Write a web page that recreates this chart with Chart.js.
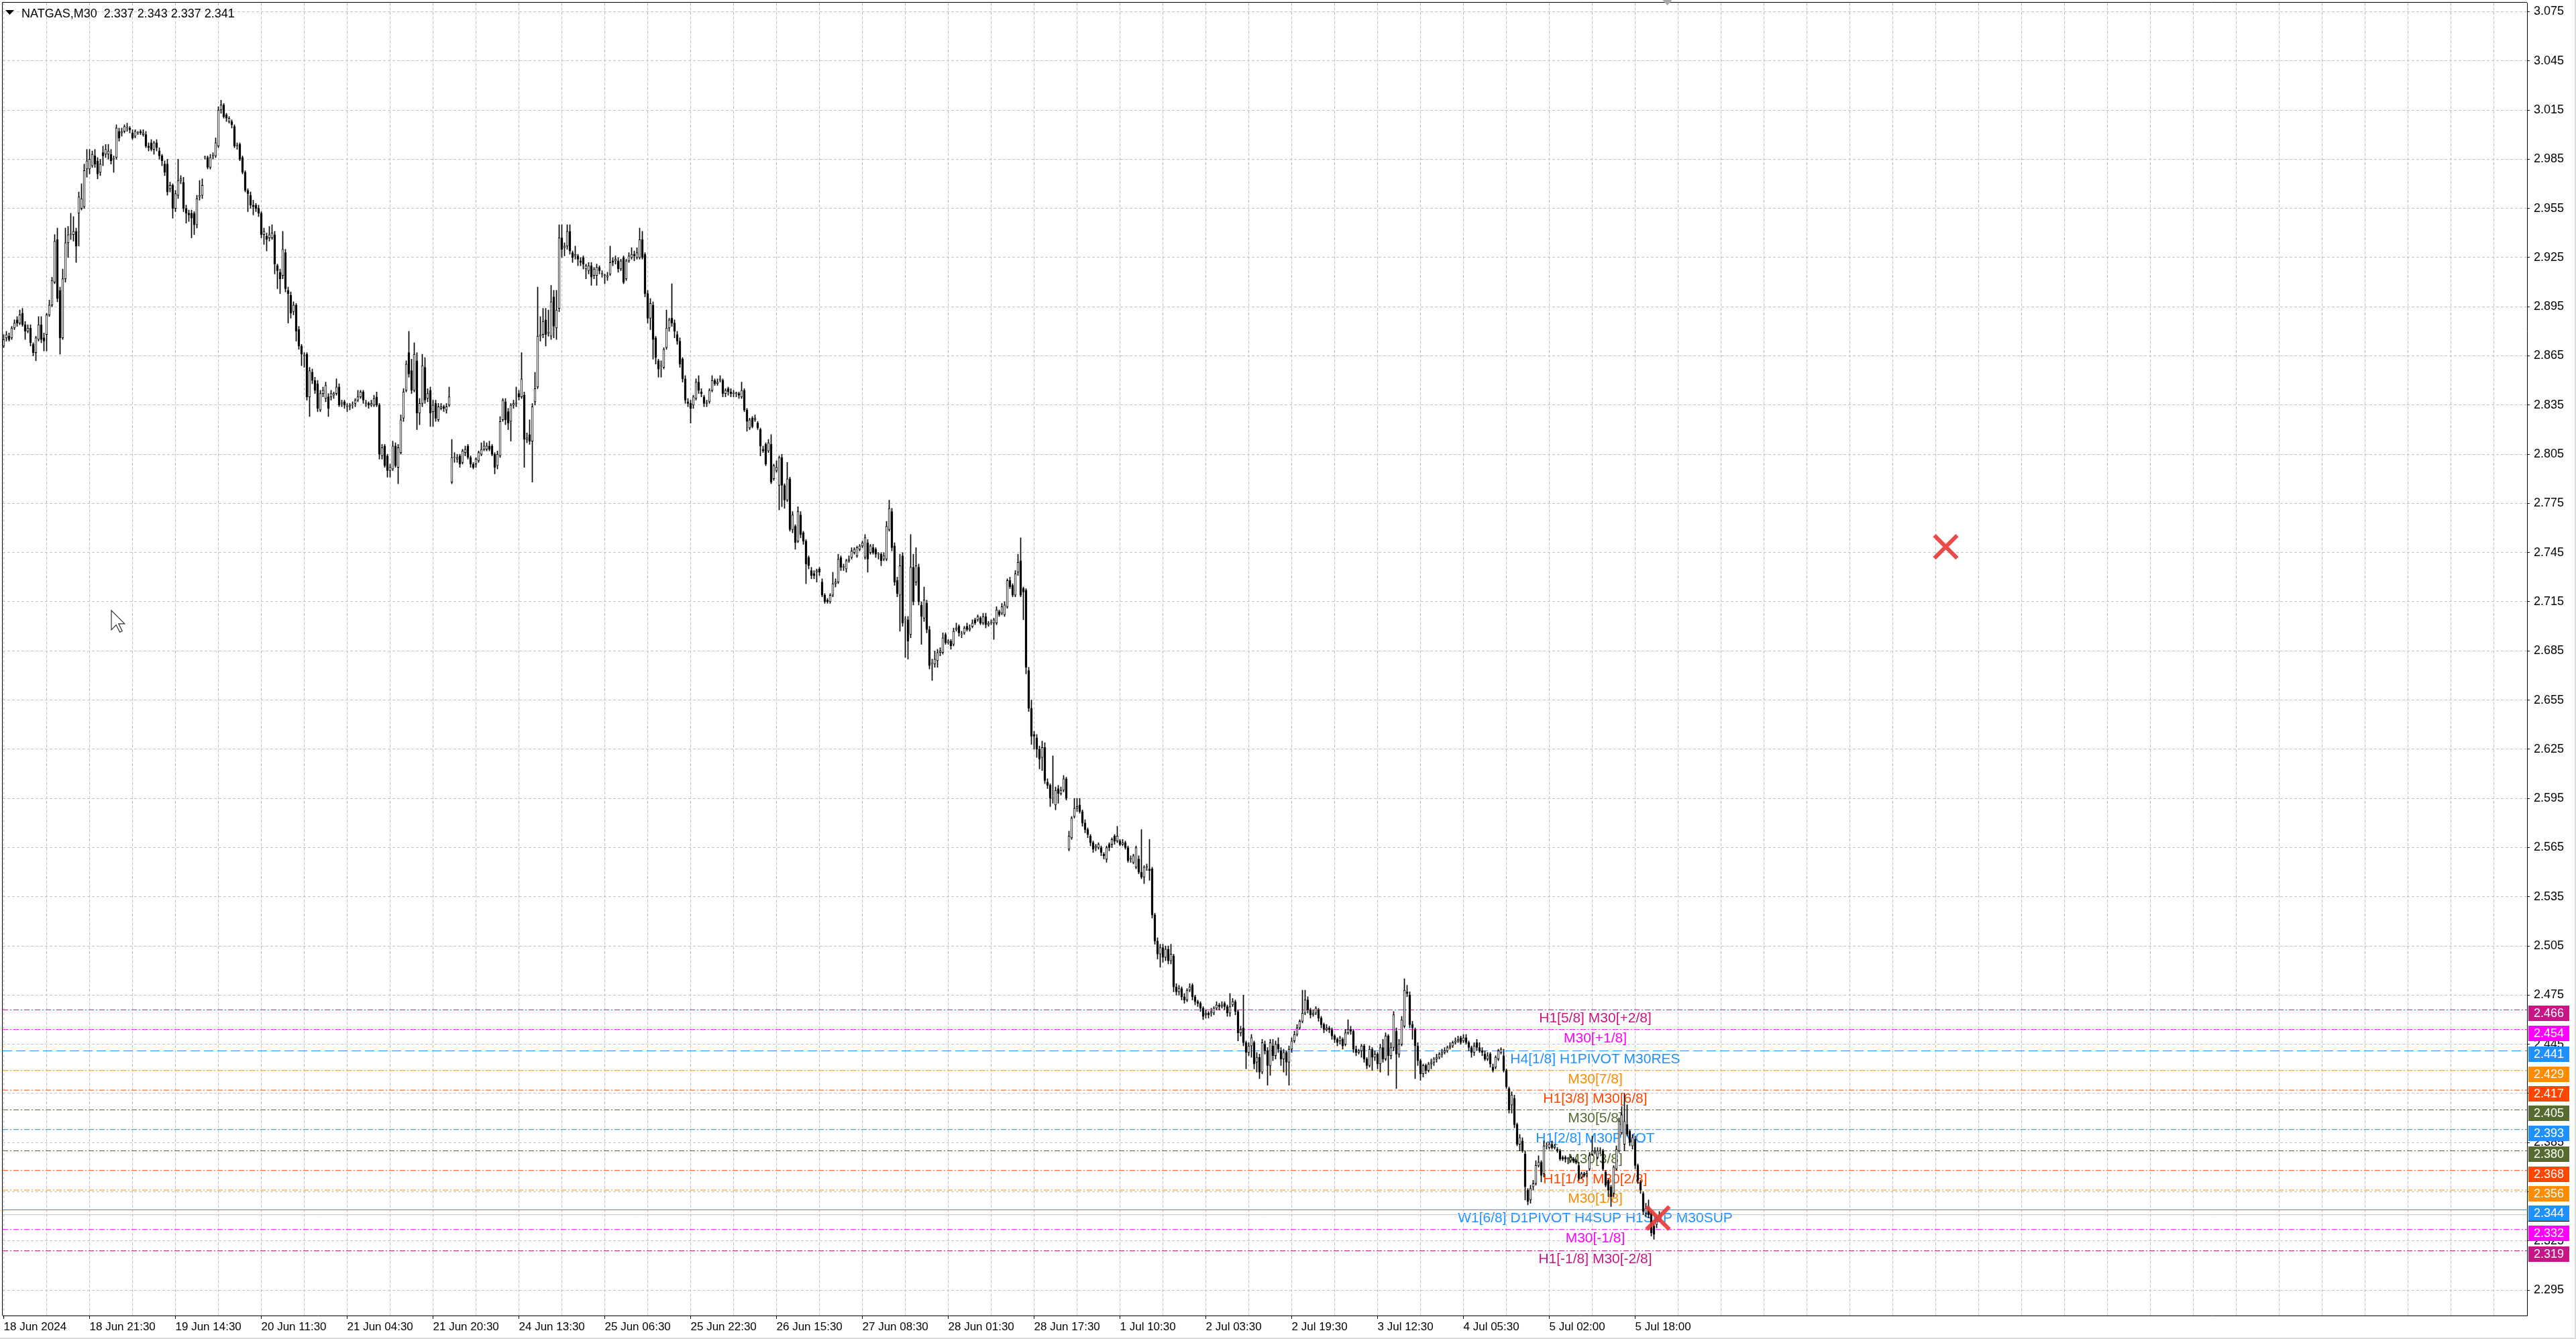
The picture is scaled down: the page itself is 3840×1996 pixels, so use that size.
<!DOCTYPE html>
<html><head><meta charset="utf-8">
<script src="https://cdn.jsdelivr.net/npm/chart.js@4.4.1/dist/chart.umd.min.js"></script>
<style>
html,body{margin:0;padding:0;background:#fff;overflow:hidden;}
#wrap{width:3840px;height:1996px;position:relative;}
canvas{display:block;}
</style></head><body>
<div id="wrap"><canvas id="c" width="3840" height="1996" style="width:3840px;height:1996px"></canvas></div>
<script>
const symbolName = 'NATGAS';
const periodName = 'M30';
const timeLabels = ['18 Jun 2024','18 Jun 21:30','19 Jun 14:30','20 Jun 11:30','21 Jun 04:30','21 Jun 20:30','24 Jun 13:30','25 Jun 06:30','25 Jun 22:30','26 Jun 15:30','27 Jun 08:30','28 Jun 01:30','28 Jun 17:30','1 Jul 10:30','2 Jul 03:30','2 Jul 19:30','3 Jul 12:30','4 Jul 05:30','5 Jul 02:00','5 Jul 18:00'];
const priceTicks = [3.075,3.045,3.015,2.985,2.955,2.925,2.895,2.865,2.835,2.805,2.775,2.745,2.715,2.685,2.655,2.625,2.595,2.565,2.535,2.505,2.475,2.445,2.415,2.385,2.355,2.325,2.295];

const barOpen = [
2.871,2.876,2.877,2.876,2.882,2.887,2.885,2.891,2.884,2.880,
2.882,2.872,2.867,2.875,2.884,2.876,2.878,2.890,2.896,2.910,
2.936,2.905,2.876,2.912,2.934,2.939,2.939,2.941,2.952,2.955,
2.956,2.979,2.979,2.981,2.987,2.984,2.977,2.989,2.988,2.988,
2.988,2.985,2.986,3.002,3.001,3.002,3.004,3.004,3.001,2.999,
3.001,3.002,3.000,3.000,2.993,2.995,2.991,2.995,2.990,2.987,
2.982,2.982,2.967,2.969,2.955,2.963,2.972,2.971,2.955,2.952,
2.952,2.952,2.945,2.962,2.963,2.986,2.986,2.980,2.987,2.987,
2.993,3.015,3.018,3.012,3.008,3.008,3.005,2.993,2.994,2.986,
2.977,2.966,2.963,2.957,2.957,2.955,2.952,2.939,2.938,2.937,
2.937,2.939,2.920,2.916,2.914,2.928,2.905,2.902,2.892,2.896,
2.881,2.871,2.865,2.866,2.840,2.855,2.850,2.848,2.832,2.842,
2.839,2.840,2.840,2.841,2.842,2.846,2.836,2.837,2.834,2.834,
2.835,2.836,2.838,2.840,2.843,2.836,2.836,2.835,2.835,2.840,
2.835,2.804,2.810,2.804,2.795,2.796,2.810,2.797,2.806,2.827,
2.844,2.867,2.856,2.844,2.862,2.830,2.836,2.858,2.839,2.844,
2.831,2.836,2.826,2.833,2.834,2.832,2.835,2.788,2.803,2.802,
2.804,2.800,2.806,2.810,2.803,2.799,2.799,2.801,2.805,2.808,
2.808,2.810,2.810,2.805,2.798,2.804,2.826,2.837,2.831,2.825,
2.835,2.836,2.842,2.840,2.841,2.814,2.817,2.813,2.837,2.846,
2.877,2.878,2.887,2.879,2.877,2.901,2.882,2.894,2.937,2.931,
2.932,2.941,2.928,2.926,2.926,2.923,2.925,2.918,2.917,2.920,
2.914,2.914,2.919,2.915,2.914,2.913,2.915,2.923,2.923,2.923,
2.918,2.925,2.912,2.923,2.925,2.927,2.925,2.925,2.936,2.927,
2.903,2.888,2.896,2.876,2.862,2.859,2.858,2.870,2.882,2.888,
2.885,2.878,2.874,2.863,2.851,2.837,2.836,2.835,2.839,2.849,
2.843,2.840,2.836,2.837,2.844,2.850,2.848,2.850,2.850,2.842,
2.845,2.843,2.842,2.842,2.842,2.840,2.844,2.832,2.821,2.827,
2.826,2.824,2.820,2.808,2.811,2.807,2.811,2.790,2.795,2.786,
2.803,2.786,2.777,2.790,2.759,2.761,2.752,2.768,2.757,2.752,
2.742,2.734,2.732,2.733,2.735,2.727,2.719,2.716,2.715,2.719,
2.726,2.727,2.742,2.736,2.735,2.740,2.742,2.745,2.743,2.747,
2.749,2.742,2.751,2.745,2.748,2.747,2.744,2.744,2.741,2.741,
2.759,2.770,2.749,2.728,2.719,2.743,2.704,2.704,2.695,2.736,
2.727,2.736,2.713,2.705,2.714,2.698,2.677,2.677,2.679,2.684,
2.684,2.695,2.690,2.691,2.689,2.698,2.700,2.695,2.696,2.700,
2.698,2.700,2.704,2.704,2.705,2.702,2.706,2.701,2.702,2.702,
2.702,2.709,2.708,2.707,2.712,2.728,2.725,2.719,2.733,2.740,
2.723,2.722,2.673,2.650,2.634,2.632,2.625,2.620,2.626,2.605,
2.603,2.595,2.591,2.601,2.598,2.600,2.607,2.564,2.571,2.584,
2.589,2.591,2.587,2.580,2.576,2.572,2.568,2.565,2.565,2.565,
2.561,2.558,2.567,2.567,2.572,2.569,2.569,2.567,2.568,2.565,
2.558,2.556,2.553,2.558,2.550,2.547,2.553,2.552,2.552,2.524,
2.508,2.500,2.504,2.498,2.503,2.496,2.499,2.480,2.477,2.479,
2.474,2.472,2.478,2.481,2.474,2.471,2.470,2.467,2.463,2.464,
2.464,2.464,2.467,2.469,2.468,2.470,2.468,2.464,2.469,2.471,
2.465,2.452,2.455,2.446,2.440,2.444,2.446,2.434,2.437,2.428,
2.445,2.441,2.432,2.444,2.438,2.445,2.441,2.436,2.440,2.434,
2.442,2.447,2.451,2.455,2.459,2.464,2.472,2.466,2.463,2.464,
2.466,2.461,2.457,2.454,2.455,2.454,2.450,2.448,2.447,2.448,
2.445,2.452,2.454,2.453,2.442,2.440,2.441,2.444,2.436,2.432,
2.442,2.437,2.439,2.433,2.443,2.436,2.450,2.438,2.443,2.453,
2.439,2.445,2.456,2.477,2.475,2.457,2.454,2.444,2.435,2.427,
2.432,2.429,2.433,2.434,2.436,2.437,2.439,2.440,2.441,2.443,
2.444,2.446,2.447,2.449,2.447,2.449,2.446,2.443,2.440,2.446,
2.443,2.441,2.439,2.436,2.439,2.431,2.431,2.436,2.440,2.438,
2.429,2.418,2.408,2.412,2.396,2.384,2.386,2.378,2.356,2.350,
2.358,2.360,2.371,2.373,2.366,2.383,2.382,2.384,2.382,2.381,
2.380,2.376,2.376,2.375,2.374,2.375,2.374,2.371,2.364,2.366,
2.365,2.369,2.378,2.379,2.376,2.380,2.380,2.367,2.362,2.358,
2.354,2.369,2.380,2.391,2.384,2.396,2.392,2.383,2.387,2.371,
2.361,2.354,2.342,2.346,2.342,2.334,2.335,2.337];

const barHigh = [
2.878,2.880,2.879,2.883,2.887,2.889,2.893,2.894,2.886,2.884,
2.884,2.873,2.877,2.889,2.889,2.879,2.891,2.899,2.913,2.939,
2.943,2.907,2.918,2.943,2.944,2.952,2.950,2.943,2.965,2.970,
2.982,2.991,2.991,2.990,2.991,2.986,2.985,2.993,2.994,2.994,
2.991,2.987,3.006,3.004,3.004,3.006,3.007,3.005,3.003,3.003,
3.002,3.003,3.003,3.002,2.995,2.997,2.996,2.997,2.992,2.988,
2.984,2.985,2.971,2.970,2.966,2.985,2.975,2.974,2.957,2.954,
2.954,2.953,2.963,2.972,2.973,2.987,2.987,2.988,2.989,2.998,
3.017,3.021,3.019,3.013,3.011,3.009,3.006,2.995,2.995,2.987,
2.978,2.967,2.965,2.960,2.958,2.957,2.953,2.943,2.940,2.944,
2.945,2.941,2.921,2.918,2.941,2.930,2.907,2.904,2.898,2.897,
2.883,2.872,2.867,2.867,2.858,2.857,2.852,2.850,2.844,2.846,
2.849,2.842,2.844,2.843,2.851,2.848,2.838,2.838,2.836,2.836,
2.837,2.839,2.844,2.844,2.844,2.838,2.837,2.838,2.841,2.843,
2.836,2.811,2.811,2.805,2.799,2.813,2.812,2.811,2.829,2.845,
2.862,2.880,2.863,2.873,2.867,2.839,2.866,2.864,2.845,2.846,
2.838,2.838,2.836,2.836,2.835,2.836,2.846,2.814,2.806,2.805,
2.805,2.808,2.810,2.811,2.804,2.800,2.803,2.807,2.812,2.813,
2.812,2.813,2.811,2.806,2.807,2.828,2.839,2.839,2.833,2.836,
2.838,2.846,2.844,2.867,2.843,2.818,2.826,2.836,2.855,2.907,
2.889,2.894,2.894,2.893,2.908,2.905,2.905,2.945,2.945,2.934,
2.945,2.945,2.929,2.932,2.927,2.925,2.926,2.921,2.922,2.922,
2.919,2.921,2.920,2.917,2.915,2.916,2.932,2.925,2.926,2.925,
2.924,2.926,2.924,2.928,2.931,2.929,2.931,2.943,2.941,2.928,
2.905,2.900,2.898,2.877,2.863,2.862,2.870,2.893,2.888,2.909,
2.887,2.880,2.876,2.864,2.853,2.839,2.838,2.841,2.851,2.853,
2.845,2.841,2.838,2.845,2.853,2.851,2.851,2.853,2.851,2.845,
2.846,2.845,2.844,2.843,2.843,2.849,2.845,2.833,2.827,2.828,
2.829,2.825,2.821,2.810,2.812,2.814,2.817,2.799,2.801,2.804,
2.805,2.787,2.800,2.791,2.770,2.762,2.773,2.770,2.758,2.753,
2.743,2.736,2.734,2.735,2.736,2.729,2.720,2.717,2.720,2.733,
2.729,2.744,2.743,2.738,2.741,2.743,2.748,2.748,2.749,2.750,
2.752,2.756,2.753,2.750,2.750,2.748,2.745,2.745,2.745,2.764,
2.777,2.772,2.751,2.730,2.744,2.745,2.706,2.706,2.756,2.744,
2.748,2.738,2.715,2.724,2.716,2.700,2.680,2.685,2.686,2.687,
2.696,2.696,2.692,2.692,2.699,2.702,2.701,2.697,2.700,2.702,
2.701,2.704,2.705,2.707,2.706,2.708,2.708,2.703,2.704,2.705,
2.712,2.710,2.714,2.715,2.729,2.730,2.726,2.734,2.744,2.754,
2.724,2.723,2.675,2.655,2.636,2.634,2.627,2.630,2.629,2.607,
2.604,2.621,2.602,2.603,2.602,2.609,2.608,2.575,2.584,2.595,
2.595,2.595,2.588,2.582,2.577,2.573,2.569,2.567,2.568,2.566,
2.562,2.566,2.568,2.571,2.573,2.578,2.570,2.570,2.569,2.566,
2.560,2.561,2.566,2.560,2.576,2.554,2.555,2.570,2.553,2.525,
2.510,2.506,2.506,2.505,2.505,2.506,2.500,2.482,2.481,2.480,
2.476,2.479,2.482,2.482,2.475,2.472,2.471,2.468,2.466,2.465,
2.467,2.468,2.471,2.470,2.471,2.471,2.469,2.476,2.473,2.472,
2.466,2.456,2.475,2.447,2.446,2.451,2.447,2.440,2.439,2.448,
2.447,2.443,2.448,2.448,2.447,2.449,2.443,2.442,2.441,2.444,
2.449,2.453,2.457,2.460,2.478,2.478,2.474,2.467,2.466,2.468,
2.467,2.462,2.458,2.457,2.456,2.455,2.451,2.449,2.450,2.449,
2.454,2.460,2.456,2.454,2.444,2.442,2.445,2.445,2.437,2.444,
2.443,2.441,2.440,2.445,2.448,2.452,2.451,2.446,2.465,2.455,
2.448,2.462,2.485,2.481,2.477,2.459,2.455,2.446,2.436,2.433,
2.433,2.434,2.436,2.437,2.439,2.440,2.442,2.443,2.444,2.446,
2.447,2.449,2.450,2.450,2.451,2.451,2.447,2.444,2.446,2.448,
2.446,2.443,2.441,2.440,2.440,2.433,2.438,2.442,2.443,2.442,
2.430,2.419,2.416,2.414,2.397,2.390,2.388,2.380,2.357,2.359,
2.362,2.374,2.377,2.374,2.386,2.385,2.385,2.386,2.384,2.382,
2.381,2.377,2.377,2.376,2.377,2.376,2.375,2.373,2.367,2.367,
2.368,2.379,2.389,2.382,2.382,2.382,2.381,2.368,2.363,2.359,
2.371,2.383,2.400,2.407,2.415,2.408,2.393,2.390,2.389,2.372,
2.362,2.355,2.348,2.350,2.343,2.336,2.340,2.343];

const barLow = [
2.870,2.874,2.874,2.875,2.881,2.883,2.884,2.883,2.875,2.879,
2.871,2.865,2.862,2.874,2.873,2.868,2.868,2.889,2.895,2.909,
2.898,2.866,2.875,2.910,2.925,2.936,2.935,2.922,2.932,2.954,
2.955,2.974,2.976,2.980,2.980,2.973,2.975,2.981,2.986,2.985,
2.982,2.977,2.985,2.996,2.999,3.001,3.002,3.001,2.997,2.998,
3.000,3.000,2.999,2.992,2.990,2.990,2.988,2.990,2.985,2.981,
2.975,2.963,2.965,2.949,2.953,2.961,2.970,2.953,2.946,2.947,
2.937,2.939,2.943,2.960,2.961,2.985,2.979,2.979,2.985,2.986,
2.992,3.013,3.010,3.008,3.007,3.004,2.992,2.991,2.984,2.976,
2.965,2.953,2.955,2.951,2.953,2.950,2.937,2.933,2.929,2.935,
2.936,2.915,2.906,2.903,2.912,2.904,2.885,2.888,2.890,2.874,
2.869,2.859,2.858,2.838,2.828,2.848,2.842,2.831,2.831,2.840,
2.837,2.828,2.838,2.839,2.841,2.834,2.834,2.833,2.831,2.832,
2.833,2.834,2.837,2.839,2.836,2.834,2.833,2.834,2.834,2.834,
2.802,2.802,2.797,2.791,2.791,2.795,2.797,2.787,2.805,2.825,
2.843,2.852,2.842,2.843,2.820,2.823,2.834,2.836,2.837,2.822,
2.822,2.825,2.825,2.832,2.831,2.830,2.834,2.787,2.800,2.800,
2.797,2.799,2.804,2.802,2.797,2.796,2.797,2.800,2.804,2.807,
2.807,2.807,2.804,2.793,2.796,2.803,2.825,2.823,2.820,2.813,
2.833,2.834,2.838,2.839,2.797,2.812,2.811,2.788,2.835,2.845,
2.874,2.876,2.871,2.877,2.875,2.876,2.875,2.892,2.925,2.926,
2.930,2.927,2.922,2.924,2.920,2.920,2.918,2.912,2.915,2.908,
2.912,2.908,2.915,2.913,2.909,2.911,2.914,2.920,2.921,2.916,
2.917,2.909,2.911,2.922,2.924,2.923,2.924,2.924,2.924,2.901,
2.885,2.881,2.863,2.860,2.852,2.852,2.857,2.869,2.880,2.883,
2.876,2.872,2.858,2.849,2.836,2.834,2.824,2.833,2.838,2.842,
2.840,2.834,2.834,2.836,2.843,2.847,2.847,2.849,2.840,2.840,
2.841,2.840,2.840,2.840,2.839,2.839,2.831,2.819,2.820,2.821,
2.825,2.820,2.804,2.806,2.798,2.806,2.787,2.789,2.794,2.771,
2.773,2.772,2.776,2.758,2.757,2.747,2.751,2.754,2.750,2.726,
2.735,2.729,2.729,2.727,2.731,2.718,2.714,2.714,2.714,2.718,
2.724,2.726,2.734,2.734,2.733,2.739,2.741,2.744,2.742,2.746,
2.748,2.741,2.733,2.744,2.744,2.742,2.741,2.737,2.740,2.740,
2.758,2.746,2.725,2.718,2.697,2.700,2.681,2.680,2.693,2.713,
2.725,2.713,2.689,2.703,2.696,2.674,2.667,2.675,2.675,2.682,
2.683,2.689,2.689,2.686,2.688,2.697,2.694,2.693,2.695,2.697,
2.697,2.699,2.701,2.703,2.701,2.701,2.699,2.700,2.701,2.692,
2.701,2.706,2.707,2.706,2.711,2.723,2.718,2.718,2.731,2.718,
2.704,2.671,2.648,2.628,2.625,2.620,2.613,2.612,2.604,2.601,
2.590,2.592,2.588,2.592,2.597,2.599,2.594,2.563,2.570,2.583,
2.587,2.586,2.578,2.574,2.571,2.566,2.562,2.563,2.564,2.560,
2.558,2.556,2.563,2.565,2.567,2.568,2.566,2.566,2.564,2.556,
2.556,2.555,2.552,2.549,2.546,2.543,2.551,2.545,2.522,2.506,
2.497,2.492,2.495,2.496,2.494,2.494,2.477,2.475,2.475,2.472,
2.470,2.471,2.477,2.472,2.469,2.468,2.465,2.460,2.461,2.461,
2.462,2.463,2.466,2.466,2.467,2.466,2.462,2.462,2.468,2.463,
2.447,2.450,2.444,2.430,2.438,2.437,2.430,2.428,2.424,2.427,
2.439,2.420,2.426,2.435,2.436,2.440,2.432,2.428,2.426,2.420,
2.440,2.446,2.450,2.454,2.458,2.463,2.464,2.461,2.462,2.463,
2.459,2.455,2.452,2.453,2.452,2.448,2.446,2.444,2.445,2.442,
2.444,2.451,2.451,2.440,2.438,2.439,2.437,2.434,2.430,2.431,
2.429,2.435,2.430,2.428,2.434,2.435,2.426,2.436,2.441,2.418,
2.437,2.444,2.455,2.474,2.455,2.448,2.424,2.432,2.423,2.425,
2.427,2.428,2.430,2.432,2.434,2.436,2.437,2.439,2.440,2.442,
2.443,2.445,2.446,2.445,2.446,2.445,2.441,2.437,2.438,2.441,
2.440,2.438,2.435,2.435,2.431,2.428,2.430,2.435,2.439,2.428,
2.418,2.403,2.403,2.394,2.383,2.380,2.379,2.350,2.347,2.348,
2.356,2.359,2.370,2.361,2.364,2.381,2.381,2.381,2.381,2.379,
2.374,2.374,2.373,2.372,2.373,2.373,2.372,2.362,2.363,2.364,
2.364,2.368,2.377,2.378,2.375,2.378,2.368,2.358,2.352,2.346,
2.352,2.368,2.379,2.390,2.380,2.389,2.383,2.381,2.369,2.360,
2.354,2.341,2.340,2.339,2.328,2.326,2.333,2.337];

const barClose = [
2.875,2.878,2.875,2.882,2.885,2.885,2.890,2.884,2.880,2.882,
2.873,2.867,2.876,2.884,2.875,2.874,2.890,2.896,2.911,2.935,
2.900,2.876,2.912,2.934,2.939,2.939,2.941,2.932,2.962,2.961,
2.978,2.984,2.985,2.988,2.982,2.976,2.982,2.987,2.991,2.990,
2.984,2.985,3.004,2.998,3.002,3.005,3.004,3.003,2.998,3.002,
3.001,3.001,3.001,2.993,2.992,2.991,2.995,2.992,2.987,2.984,
2.977,2.965,2.969,2.955,2.964,2.972,2.973,2.955,2.952,2.951,
2.949,2.945,2.961,2.963,2.969,2.986,2.980,2.986,2.987,2.995,
3.015,3.018,3.011,3.010,3.010,3.006,2.993,2.993,2.985,2.977,
2.966,2.964,2.957,2.956,2.955,2.952,2.939,2.941,2.936,2.939,
2.940,2.921,2.917,2.912,2.930,2.906,2.903,2.891,2.896,2.880,
2.871,2.866,2.865,2.840,2.856,2.850,2.844,2.833,2.842,2.844,
2.847,2.833,2.842,2.842,2.846,2.835,2.836,2.835,2.834,2.835,
2.835,2.838,2.840,2.843,2.838,2.836,2.835,2.836,2.839,2.835,
2.805,2.809,2.798,2.795,2.797,2.810,2.798,2.809,2.826,2.843,
2.860,2.854,2.844,2.866,2.830,2.836,2.859,2.838,2.842,2.830,
2.835,2.827,2.834,2.834,2.833,2.834,2.840,2.803,2.803,2.803,
2.799,2.807,2.808,2.803,2.799,2.797,2.802,2.806,2.808,2.810,
2.810,2.808,2.805,2.797,2.805,2.825,2.838,2.826,2.824,2.835,
2.836,2.836,2.840,2.851,2.814,2.815,2.813,2.834,2.845,2.877,
2.878,2.886,2.878,2.879,2.898,2.883,2.893,2.937,2.930,2.932,
2.941,2.929,2.925,2.927,2.924,2.922,2.921,2.920,2.920,2.913,
2.918,2.919,2.917,2.915,2.914,2.914,2.922,2.922,2.924,2.918,
2.923,2.910,2.923,2.926,2.927,2.926,2.928,2.936,2.925,2.903,
2.888,2.897,2.875,2.864,2.857,2.859,2.869,2.882,2.887,2.885,
2.880,2.874,2.860,2.851,2.838,2.836,2.833,2.840,2.849,2.844,
2.842,2.836,2.836,2.844,2.850,2.848,2.849,2.851,2.842,2.844,
2.843,2.842,2.842,2.842,2.841,2.844,2.832,2.825,2.826,2.822,
2.827,2.821,2.810,2.807,2.799,2.812,2.788,2.798,2.797,2.803,
2.786,2.777,2.790,2.759,2.768,2.751,2.770,2.756,2.752,2.738,
2.737,2.731,2.731,2.734,2.733,2.719,2.715,2.715,2.719,2.726,
2.727,2.741,2.736,2.736,2.740,2.741,2.746,2.747,2.748,2.749,
2.751,2.754,2.741,2.749,2.745,2.744,2.744,2.740,2.743,2.761,
2.772,2.748,2.727,2.720,2.737,2.702,2.704,2.691,2.736,2.715,
2.737,2.715,2.706,2.716,2.698,2.676,2.677,2.680,2.684,2.685,
2.693,2.690,2.691,2.688,2.697,2.699,2.696,2.695,2.699,2.698,
2.699,2.702,2.702,2.706,2.702,2.706,2.701,2.702,2.702,2.704,
2.710,2.707,2.712,2.713,2.728,2.724,2.719,2.732,2.739,2.719,
2.721,2.675,2.650,2.633,2.633,2.625,2.619,2.626,2.606,2.603,
2.595,2.595,2.600,2.598,2.600,2.607,2.595,2.572,2.583,2.589,
2.590,2.587,2.580,2.576,2.573,2.568,2.564,2.566,2.567,2.562,
2.560,2.565,2.565,2.570,2.569,2.572,2.567,2.568,2.565,2.557,
2.558,2.560,2.565,2.550,2.547,2.553,2.553,2.551,2.524,2.508,
2.500,2.504,2.498,2.503,2.496,2.500,2.480,2.477,2.479,2.474,
2.472,2.478,2.480,2.474,2.471,2.470,2.467,2.462,2.464,2.463,
2.465,2.467,2.469,2.468,2.469,2.468,2.464,2.468,2.471,2.465,
2.452,2.454,2.446,2.440,2.444,2.449,2.433,2.437,2.428,2.446,
2.441,2.432,2.446,2.438,2.445,2.442,2.436,2.440,2.434,2.442,
2.447,2.451,2.455,2.459,2.464,2.472,2.466,2.463,2.464,2.467,
2.461,2.457,2.454,2.455,2.454,2.450,2.448,2.446,2.449,2.444,
2.452,2.454,2.453,2.442,2.440,2.441,2.444,2.436,2.432,2.442,
2.437,2.439,2.433,2.443,2.436,2.450,2.438,2.443,2.463,2.439,
2.445,2.460,2.478,2.476,2.457,2.455,2.444,2.435,2.427,2.432,
2.429,2.433,2.434,2.436,2.437,2.439,2.440,2.441,2.443,2.444,
2.446,2.447,2.448,2.446,2.449,2.446,2.443,2.440,2.444,2.443,
2.441,2.440,2.436,2.438,2.433,2.429,2.437,2.441,2.442,2.429,
2.419,2.405,2.414,2.396,2.384,2.388,2.380,2.358,2.349,2.357,
2.360,2.371,2.373,2.365,2.383,2.383,2.384,2.382,2.383,2.380,
2.375,2.375,2.375,2.375,2.376,2.374,2.373,2.363,2.366,2.365,
2.366,2.377,2.380,2.380,2.380,2.380,2.369,2.359,2.356,2.352,
2.370,2.381,2.398,2.402,2.398,2.390,2.385,2.388,2.371,2.362,
2.356,2.343,2.345,2.341,2.330,2.329,2.339,2.341];

const levelPrices = [2.466,2.454,2.441,2.429,2.417,2.405,2.393,2.380,2.368,2.356,2.344,2.332,2.319];
const levelNames = ['H1[5/8] M30[+2/8]','M30[+1/8]','H4[1/8] H1PIVOT M30RES','M30[7/8]','H1[3/8] M30[6/8]','M30[5/8]','H1[2/8] M30PIVOT','M30[3/8]','H1[1/8] M30[2/8]','M30[1/8]','W1[6/8] D1PIVOT H4SUP H1SUP M30SUP','M30[-1/8]','H1[-1/8] M30[-2/8]'];
const crossBars = [723.75, 616.5];
const crossPrices = [2.7485, 2.339];

// ---- styles ----
const levelColors = ['#C71585','#FF00FF','#1E90FF','#FF8C00','#FF4500','#556B2F','#1E90FF','#556B2F','#FF4500','#FF8C00','#1E90FF','#FF00FF','#C71585'];
const DASHDOT = [8,3,2,3], DASH = [14,6];
const levelDash = [DASHDOT,DASHDOT,DASH,DASHDOT,DASHDOT,DASHDOT,DASHDOT,DASHDOT,DASHDOT,DASHDOT,[],DASHDOT,DASHDOT];
const X_MIN = -0.375, X_MAX = 940.375, Y_MIN = 2.2795, Y_MAX = 3.0805;
const LABEL_BAR = 593.125;
const SHIFT_BAR = 620;
const AXIS_FONT = '18px "Liberation Sans", Arial, sans-serif';

const lastIdx = barClose.length - 1;
const bidPrice = barClose[lastIdx];

const wickData = barOpen.map((o, i) => ({x: i, y: [barLow[i], barHigh[i]]}));
const bodyData = barOpen.map((o, i) => ({x: i, y: [o, barClose[i]]}));
const bodyFill = barOpen.map((o, i) => barClose[i] >= o ? '#ffffff' : '#000000');

const datasets = [];
levelPrices.forEach((p, i) => {
  datasets.push({type: 'line', data: [{x: X_MIN, y: p}, {x: X_MAX, y: p}], borderColor: levelColors[i], borderWidth: 1, borderDash: levelDash[i], pointRadius: 0, fill: false, order: 5});
});
datasets.push({type: 'line', data: [{x: X_MIN, y: bidPrice}, {x: X_MAX, y: bidPrice}], borderColor: '#c0c0c0', borderWidth: 1, pointRadius: 0, fill: false, order: 6});
datasets.push({type: 'bar', data: wickData, backgroundColor: '#000', borderWidth: 0, barThickness: 1, grouped: false, minBarLength: 1, order: 2});
datasets.push({type: 'bar', data: bodyData, backgroundColor: bodyFill, borderColor: '#000', borderWidth: 1, borderSkipped: false, barThickness: 3, grouped: false, minBarLength: 1, order: 1});
datasets.push({type: 'scatter', data: crossBars.map((b, i) => ({x: b, y: crossPrices[i]})), pointStyle: 'crossRot', pointRadius: 24, pointBorderWidth: 6, pointBorderColor: 'rgba(232,60,56,0.92)', borderColor: 'rgba(232,60,56,0.92)', showLine: false, order: 0});

const decor = {
  id: 'decor',
  beforeDatasetsDraw(chart) {
    const {ctx, scales: {x, y}} = chart;
    ctx.save();
    ctx.font = '21px "Liberation Sans", Arial, sans-serif';
    ctx.textAlign = 'center';
    ctx.textBaseline = 'alphabetic';
    const cx = x.getPixelForValue(LABEL_BAR);
    levelPrices.forEach((p, i) => {
      ctx.fillStyle = levelColors[i];
      ctx.fillText(levelNames[i], cx, y.getPixelForValue(p) + 19);
    });
    ctx.restore();
  },
  afterDraw(chart) {
    const {ctx, chartArea: a, scales: {x, y}} = chart;
    ctx.save();
    ctx.strokeStyle = '#000'; ctx.lineWidth = 1;
    ctx.beginPath();
    ctx.moveTo(a.left - 0.5, a.bottom); ctx.lineTo(a.left - 0.5, a.top - 0.5); ctx.lineTo(a.right, a.top - 0.5);
    ctx.stroke();
    // window edges
    ctx.fillStyle = '#dcdcdc';
    ctx.fillRect(0, 1994, 3840, 2);
    ctx.fillRect(3838, 0, 2, 1996);
    // chart shift marker
    const sx = x.getPixelForValue(SHIFT_BAR);
    ctx.fillStyle = '#a8a8a8';
    ctx.beginPath(); ctx.moveTo(sx - 7, 0); ctx.lineTo(sx + 7, 0); ctx.lineTo(sx, 8); ctx.closePath(); ctx.fill();
    // title
    ctx.fillStyle = '#000';
    ctx.beginPath(); ctx.moveTo(8, 15); ctx.lineTo(21, 15); ctx.lineTo(14.5, 22); ctx.closePath(); ctx.fill();
    ctx.font = '18px "Liberation Sans", Arial, sans-serif';
    ctx.textAlign = 'left'; ctx.textBaseline = 'alphabetic';
    const t = symbolName + ',' + periodName + '  ' + [barOpen[lastIdx], barHigh[lastIdx], barLow[lastIdx], barClose[lastIdx]].map(v => v.toFixed(3)).join(' ');
    ctx.fillText(t, 32, 26);
    // price labels on the scale
    const bx = y.left + 2, bw = 61, bh = 23;
    ctx.font = AXIS_FONT;
    ctx.textBaseline = 'middle';
    levelPrices.forEach((p, i) => {
      const py = Math.round(y.getPixelForValue(p)) + 5;
      ctx.fillStyle = levelColors[i];
      ctx.fillRect(bx, py - 11, bw, bh);
      ctx.fillStyle = '#fff';
      ctx.fillText(p.toFixed(3), y.left + 10, py + 1);
    });
    const wy = Math.round(y.getPixelForValue(levelPrices[10])) + 5 + 12;
    ctx.fillStyle = '#000';
    ctx.fillRect(bx, wy, bw, 1);
    // mouse pointer
    const px = 166, pyy = 910, s = 1.8;
    const pts = [[0,0],[0,16],[4,12],[7,18],[9,17],[6,11],[11,11]];
    ctx.beginPath();
    pts.forEach((q, k) => { const X = px + q[0] * s, Y = pyy + q[1] * s; if (k) ctx.lineTo(X, Y); else ctx.moveTo(X, Y); });
    ctx.closePath();
    ctx.fillStyle = '#fff'; ctx.fill();
    ctx.strokeStyle = '#333'; ctx.lineWidth = 1.2; ctx.stroke();
    ctx.restore();
  }
};

new Chart(document.getElementById('c').getContext('2d'), {
  type: 'bar',
  data: {datasets},
  plugins: [decor],
  options: {
    responsive: false,
    animation: false,
    devicePixelRatio: 1,
    events: [],
    layout: {autoPadding: false, padding: {left: 4, top: 4, right: 0, bottom: 0}},
    plugins: {legend: {display: false}, tooltip: {enabled: false}, title: {display: false}},
    scales: {
      x: {
        type: 'linear', position: 'bottom', min: X_MIN, max: X_MAX, offset: false,
        afterBuildTicks(scale) { const t = []; for (let v = 0; v <= 928; v += 16) t.push({value: v}); scale.ticks = t; },
        afterFit(scale) { scale.height = 35; scale.paddingLeft = 0; scale.paddingRight = 0; scale.paddingTop = 0; scale.paddingBottom = 0; },
        ticks: {
          autoSkip: false, maxRotation: 0, minRotation: 0, align: 'start', padding: 2,
          color: '#000', font: {family: '"Liberation Sans", Arial, sans-serif', size: 17},
          callback(v) { if (v % 32 === 0 && v / 32 < timeLabels.length) return timeLabels[v / 32]; return ''; }
        },
        grid: {
          offset: false, color: '#c4c4c4', lineWidth: 1, drawTicks: true, tickLength: 5, tickWidth: 1, tickBorderDash: [],
          tickColor(c) { const v = c.tick ? c.tick.value : -1; return (v % 32 === 0 && v / 32 < timeLabels.length) ? '#000' : 'rgba(0,0,0,0)'; }
        },
        border: {display: true, color: '#000', width: 1, dash: [4, 3]}
      },
      y: {
        type: 'linear', position: 'right', min: Y_MIN, max: Y_MAX,
        afterBuildTicks(scale) { scale.ticks = priceTicks.map(v => ({value: v})); },
        afterFit(scale) { scale.width = 73; scale.paddingLeft = 0; scale.paddingRight = 0; scale.paddingTop = 0; scale.paddingBottom = 0; },
        ticks: {
          padding: 6, crossAlign: 'near', color: '#000', font: {family: '"Liberation Sans", Arial, sans-serif', size: 18},
          callback(v) { return Number(v).toFixed(3); }
        },
        grid: {color: '#c4c4c4', lineWidth: 1, drawTicks: true, tickLength: 4, tickColor: '#000', tickBorderDash: []},
        border: {display: true, color: '#000', width: 1, dash: [4, 3]}
      }
    }
  }
});
</script>
</body></html>
